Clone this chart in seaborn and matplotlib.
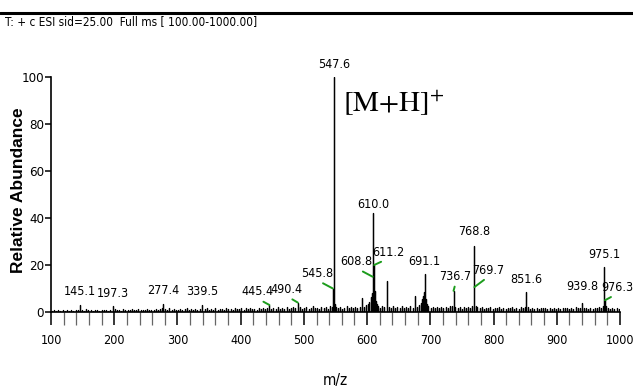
import numpy as np
import pandas as pd
import matplotlib
matplotlib.use("Agg")
import matplotlib.pyplot as plt
from matplotlib import font_manager
from matplotlib.ticker import MultipleLocator
import seaborn as sns

# ---------------- data ----------------
peak_mz = [145.1, 197.3, 277.4, 339.5, 445.4, 490.4, 545.8, 547.6, 592.0, 608.8,
           610.0, 611.2, 631.6, 676.0, 691.1, 736.7, 768.8, 769.7, 851.6, 939.8,
           975.1, 976.3]
peak_int = [3.0, 2.5, 3.5, 3.0, 3.0, 4.0, 10.0, 100.0, 6.0, 15.0,
            42.0, 20.0, 13.0, 7.0, 16.0, 9.0, 28.0, 10.6, 8.5, 4.0,
            19.0, 5.0]
labels = ["145.1", "197.3", "277.4", "339.5", "445.4", "490.4", "545.8", "547.6", None, "608.8",
          "610.0", "611.2", None, None, "691.1", "736.7", "768.8", "769.7", "851.6", "939.8",
          "975.1", "976.3"]

noise_mz = [101.5, 104.2, 107.9, 111.3, 114.6, 118.2, 121.7, 125.0, 128.4, 131.9,
            135.3, 138.8, 142.0, 148.7, 152.3, 155.6, 159.2, 162.8, 166.1, 169.5,
            173.0, 176.4, 179.9, 183.3, 186.6, 190.2, 193.7, 200.8, 204.1, 207.5,
            211.0, 214.3, 217.8, 221.2, 224.6, 228.0, 231.5, 234.9, 238.3, 241.8,
            245.2, 248.6, 252.0, 255.5, 258.9, 262.3, 265.8, 269.2, 272.6, 275.0,
            280.4, 283.8, 287.2, 290.6, 294.0, 297.5, 300.9, 304.3, 307.7, 311.2,
            314.6, 318.0, 321.4, 324.9, 328.3, 331.7, 335.1, 343.0, 346.4, 349.8,
            353.2, 356.7, 360.1, 363.5, 366.9, 370.4, 373.8, 377.2, 380.6, 384.1,
            387.5, 390.9, 394.3, 397.8, 401.2, 404.6, 408.0, 411.5, 414.9, 418.3,
            421.7, 425.2, 428.6, 432.0, 435.4, 438.9, 442.3, 448.5, 451.9, 455.3,
            458.8, 462.2, 465.6, 469.0, 472.5, 475.9, 479.3, 482.7, 486.2, 493.6,
            497.0, 500.4, 503.9, 507.3, 510.7, 514.1, 517.6, 521.0, 524.4, 527.8,
            531.3, 534.7, 538.1, 541.5, 543.9, 549.3, 551.0, 553.8, 557.2, 560.6,
            564.0, 567.5, 570.9, 574.3, 577.7, 581.2, 584.6, 588.0, 595.0, 598.4,
            601.8, 603.6, 605.4, 606.9, 607.8, 609.4, 610.6, 611.8, 612.6, 613.7,
            615.0, 617.2, 620.6, 624.0, 627.4, 634.3, 637.7, 641.1, 644.5, 648.0,
            651.4, 654.8, 658.2, 661.7, 665.1, 668.5, 671.9, 679.4, 682.8, 685.4,
            687.2, 688.6, 689.9, 692.3, 693.5, 694.8, 696.9, 700.3, 703.7, 707.1,
            710.6, 714.0, 717.4, 720.8, 724.3, 727.7, 731.1, 734.0, 739.6, 743.0,
            746.4, 749.8, 753.3, 756.7, 760.1, 763.5, 766.3, 771.6, 774.4, 777.8,
            781.2, 784.7, 788.1, 791.5, 794.9, 798.4, 801.8, 805.2, 808.6, 812.1,
            815.5, 818.9, 822.3, 825.8, 829.2, 832.6, 836.0, 839.5, 842.9, 846.3,
            849.0, 854.4, 857.8, 861.2, 864.6, 868.1, 871.5, 874.9, 878.3, 881.8,
            885.2, 888.6, 892.0, 895.5, 898.9, 902.3, 905.7, 909.2, 912.6, 916.0,
            919.4, 922.9, 926.3, 929.7, 933.1, 936.6, 943.0, 946.4, 949.8, 953.3,
            956.7, 960.1, 963.5, 966.9, 970.4, 973.0, 978.2, 981.1, 984.5, 987.9,
            991.3, 994.8, 998.2]
noise_int = [0.5, 0.7, 0.4, 0.8, 0.6, 0.9, 0.5, 0.7, 0.4, 0.8,
             0.6, 1.0, 0.8, 1.0, 0.6, 1.2, 0.7, 0.9, 0.5, 0.8,
             1.0, 0.6, 0.9, 0.7, 1.0, 0.5, 0.8, 1.1, 0.7, 0.9,
             0.6, 1.2, 0.8, 1.0, 0.7, 1.1, 0.7, 0.9, 1.3, 0.8,
             1.0, 0.7, 1.2, 0.8, 1.0, 0.7, 1.2, 0.9, 1.4, 1.7,
             1.3, 1.0, 1.5, 0.9, 1.2, 0.8, 1.0, 1.4, 0.9, 1.2,
             1.5, 1.0, 1.3, 0.8, 1.4, 1.0, 1.3, 1.1, 1.5, 0.9,
             1.3, 1.0, 1.6, 0.9, 1.2, 1.4, 1.0, 1.7, 1.2, 1.4,
             0.9, 1.6, 1.1, 1.3, 1.8, 1.0, 1.5, 1.2, 1.8, 1.1,
             1.4, 1.0, 1.7, 1.3, 1.9, 1.2, 1.6, 1.3, 1.8, 1.2,
             2.0, 1.4, 1.8, 1.2, 2.1, 1.4, 1.7, 2.3, 1.5, 2.0,
             1.4, 1.8, 2.2, 1.3, 1.8, 2.4, 1.5, 1.9, 1.4, 2.2,
             1.6, 2.0, 1.4, 2.4, 2.0, 3.5, 2.2, 1.7, 2.2, 1.4,
             1.9, 2.5, 1.6, 2.0, 1.7, 2.3, 1.5, 2.1, 2.0, 2.8,
             3.6, 4.3, 5.3, 6.5, 8.0, 9.0, 10.0, 9.0, 6.5, 4.8,
             3.5, 2.4, 1.8, 2.6, 2.0, 2.2, 1.6, 2.6, 1.8, 2.2,
             1.7, 2.4, 1.9, 2.2, 1.6, 2.4, 1.8, 2.1, 3.0, 4.0,
             5.5, 7.0, 8.5, 7.5, 5.5, 3.6, 2.5, 1.8, 2.3, 1.6,
             2.0, 1.7, 2.2, 1.5, 2.0, 1.6, 2.4, 2.6, 2.2, 1.6,
             2.1, 1.4, 2.0, 1.7, 2.3, 1.6, 2.5, 2.6, 2.2, 1.6,
             2.0, 1.4, 1.9, 1.6, 2.1, 1.4, 1.8, 1.5, 2.0, 1.4,
             1.8, 1.3, 1.9, 1.5, 2.0, 1.4, 1.8, 1.4, 2.0, 1.6,
             2.3, 2.0, 1.4, 1.8, 1.3, 1.7, 1.4, 1.9, 1.5, 1.8,
             1.3, 1.6, 1.4, 1.8, 1.3, 1.7, 1.4, 1.9, 1.5, 1.8,
             1.3, 1.6, 1.4, 2.0, 1.5, 1.8, 1.6, 1.9, 1.4, 1.8,
             1.4, 1.9, 1.5, 2.0, 1.6, 2.4, 2.5, 1.9, 1.4, 1.8,
             1.3, 1.6, 1.2]

label_dx = {"445.4": -12, "490.4": -11, "545.8": -16, "608.8": -16, "611.2": 14,
            "736.7": 2, "769.7": 14, "976.3": 12}
label_dy = {"545.8": 15, "608.8": 15, "610.0": 9, "768.8": 15, "769.7": 17,
            "939.8": 16, "736.7": 14}
leader = {"445.4", "490.4", "545.8", "608.8", "611.2", "736.7", "769.7", "976.3"}

x_ticks = [100, 200, 300, 400, 500, 600, 700, 800, 900, 1000]
y_ticks = [0, 20, 40, 60, 80, 100]

# ---------------- fonts ----------------
sns.set_theme(style="ticks")
ttf = font_manager.fontManager.ttflist
names = {f.name for f in ttf}
stretch = "normal"
if "Liberation Sans Narrow" in names:
    narrow = "Liberation Sans Narrow"
elif any(f.name == "DejaVu Sans" and str(f.stretch) in ("condensed", "semi-condensed") for f in ttf):
    narrow, stretch = "DejaVu Sans", "condensed"
elif "Liberation Sans" in names:
    narrow = "Liberation Sans"
else:
    narrow = "DejaVu Sans"
sansb = "Liberation Sans" if "Liberation Sans" in names else "DejaVu Sans"
plt.rcParams["font.family"] = [narrow, "DejaVu Sans"]
plt.rcParams["font.stretch"] = stretch
plt.rcParams["mathtext.fontset"] = "stix"
plt.rcParams["text.color"] = "black"
plt.rcParams["axes.labelcolor"] = "black"
plt.rcParams["xtick.labelcolor"] = "black"
plt.rcParams["ytick.labelcolor"] = "black"

W, H = 633, 388
fig = plt.figure(figsize=(W / 100, H / 100), dpi=100)
ax = fig.add_axes([51 / W, (H - 312) / H, (620 - 51) / W, (312 - 77) / H])

# stick spectrum as one profile line
sp = pd.DataFrame({"mz": noise_mz + peak_mz, "ab": noise_int + peak_int}).sort_values("mz")
prof = pd.DataFrame({
    "mz": np.repeat(sp["mz"].to_numpy(), 3),
    "ab": np.column_stack([np.zeros(len(sp)), sp["ab"].to_numpy(), np.zeros(len(sp))]).ravel(),
})
sns.lineplot(data=prof, x="mz", y="ab", sort=False, estimator=None,
             color="black", linewidth=0.9, ax=ax)

ax.set_xlim(100, 1000)
ax.set_ylim(0, 100)
sns.despine(ax=ax)
for s in ("left", "bottom"):
    ax.spines[s].set_linewidth(1.2)
    ax.spines[s].set_color("black")

ax.set_xticks(x_ticks)
ax.set_xticklabels([str(t) for t in x_ticks])
ax.xaxis.set_minor_locator(MultipleLocator(20))
ax.set_yticks(y_ticks)
ax.set_yticklabels([str(t) for t in y_ticks])
ax.tick_params(axis="x", which="major", length=9, width=1.1, color="black",
               pad=7, labelsize=9, labelcolor="black", direction="out")
ax.tick_params(axis="x", which="minor", length=9, width=0.9, color="#666666",
               direction="out")
ax.tick_params(axis="y", which="major", length=4, width=1.1, color="black",
               pad=1, labelsize=9.5, labelcolor="black", direction="out")

ax.set_xlabel("m/z", fontsize=11, color="black")
ax.xaxis.set_label_coords(0.5, -(381 - 312) / (312 - 77))
ax.xaxis.label.set_va("center")
ax.set_ylabel("Relative Abundance", fontsize=12.5, fontweight="bold",
              family=[sansb, "DejaVu Sans"], color="black")
ax.yaxis.set_label_coords(-(51 - 26) / (620 - 51), 0.52)

green = "#1c9c1c"
for mz, h, lab in zip(peak_mz, peak_int, labels):
    if lab is None:
        continue
    dx = label_dx.get(lab, 0)
    dy = label_dy.get(lab, 13)
    kw = {}
    if lab in leader:
        kw["arrowprops"] = dict(arrowstyle="-", color=green, lw=1.4,
                                shrinkA=0, shrinkB=0, relpos=(0.5, 0.0))
    ax.annotate(lab, xy=(mz, h), xytext=(dx, dy), textcoords="offset pixels",
                ha="center", va="center", fontsize=9, color="black",
                annotation_clip=False, **kw)

ax.text(562, 85, r"$\mathrm{[M{+}H]}^{+}$", fontsize=21, color="black",
        ha="left", va="baseline")

fig.text(5 / W, 1 - 22 / H, "T: + c ESI sid=25.00  Full ms [ 100.00-1000.00]",
         fontsize=8.5, ha="left", va="center", color="black")
fig.add_artist(plt.Line2D([0, 1], [1 - 12.5 / H, 1 - 12.5 / H],
                          transform=fig.transFigure, color="black", lw=2.2))

fig.savefig("out.png", dpi=100)
